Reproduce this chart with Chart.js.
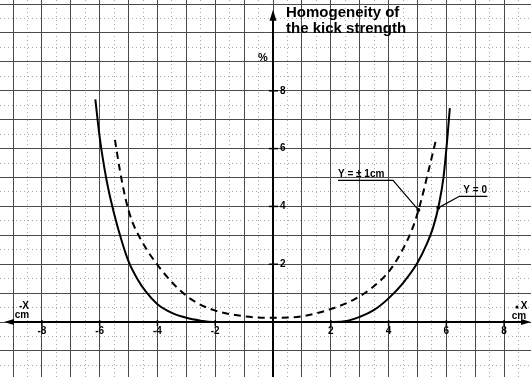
<!DOCTYPE html>
<html>
<head>
<meta charset="utf-8">
<script src="https://cdn.jsdelivr.net/npm/chart.js@4"></script>
<style>
  html, body { margin: 0; padding: 0; background: #fff; }
  canvas { display: block; }
</style>
</head>
<body>
<canvas id="chart" width="531" height="377"></canvas>
<script>
// curve Y = 0 (solid)
const xSolid = [-6.15, -6.0, -5.85, -5.7, -5.5, -5.25, -5.0, -4.7, -4.4, -4.0, -3.5, -3.0, -2.5, -2.1, 0, 2.1, 2.6, 3.0, 3.5, 4.0, 4.5, 5.0, 5.3, 5.55, 5.75, 5.9, 6.02, 6.12];
const ySolid = [7.7, 6.4, 5.4, 4.6, 3.75, 2.85, 2.1, 1.5, 1.05, 0.62, 0.32, 0.15, 0.05, 0, 0, 0, 0.05, 0.18, 0.42, 0.82, 1.35, 2.05, 2.65, 3.3, 4.1, 5.0, 6.2, 7.4];

// curve Y = +-1cm (dashed)
const xDashed = [-5.47, -5.3, -5.1, -4.9, -4.6, -4.3, -4.0, -3.68, -3.2, -2.76, -2.07, -1.0, 0, 1.0, 2.0, 2.8, 3.47, 4.05, 4.51, 4.85, 5.1, 5.35, 5.64];
const yDashed = [6.3, 5.25, 4.25, 3.55, 2.9, 2.4, 1.98, 1.58, 1.08, 0.74, 0.42, 0.2, 0.15, 0.2, 0.45, 0.78, 1.22, 1.8, 2.55, 3.3, 4.1, 5.1, 6.3];

const xTicks = [-8, -6, -4, -2, 2, 4, 6, 8];
const yTicks = [2, 4, 6, 8];
const titleLines = ['Homogeneity of', 'the kick strength'];

const xMajor = [], xMinor = [], yMajor = [], yMinor = [];
for (let v = -9; v <= 8; v++) xMajor.push(v);
for (let v = -9.5; v <= 8.5; v++) xMinor.push(v);
for (let v = -1; v <= 11; v++) yMajor.push(v);
for (let v = -1.5; v <= 10.5; v++) yMinor.push(v);

const toPts = (xs, ys) => xs.map((x, i) => ({ x: x, y: ys[i] }));
const setTicks = vals => axis => { axis.ticks = vals.map(v => ({ value: v })); };

function gridAxis(min, max, vals, pos, color, width, dash) {
  return {
    type: 'linear', position: pos, min: min, max: max,
    afterBuildTicks: setTicks(vals),
    ticks: { display: false },
    grid: { drawTicks: false, color: color, lineWidth: width },
    border: { display: false, dash: dash }
  };
}

const FONT = '"Liberation Sans", Arial, sans-serif';

const paperPlugin = {
  id: 'paper',
  afterDatasetsDraw(chart) {
    const ctx = chart.ctx;
    const sx = chart.scales.x, sy = chart.scales.y;
    const ox = sx.getPixelForValue(0), oy = sy.getPixelForValue(0);
    const left = chart.chartArea.left, right = chart.chartArea.right;
    ctx.save();
    ctx.strokeStyle = '#000';
    ctx.fillStyle = '#000';
    ctx.lineWidth = 2;
    // axes
    ctx.beginPath();
    ctx.moveTo(left + 8, oy); ctx.lineTo(right - 3, oy);
    ctx.moveTo(ox, sy.getPixelForValue(-1.9)); ctx.lineTo(ox, sy.getPixelForValue(10.6));
    ctx.stroke();
    // arrow heads
    const ty = sy.getPixelForValue(10.8);
    ctx.beginPath();
    ctx.moveTo(ox, ty); ctx.lineTo(ox - 3.5, ty + 11); ctx.lineTo(ox + 3.5, ty + 11); ctx.closePath();
    ctx.moveTo(left + 4, oy); ctx.lineTo(left + 14, oy - 3); ctx.lineTo(left + 14, oy + 3); ctx.closePath();
    ctx.moveTo(right, oy); ctx.lineTo(right - 10, oy - 3); ctx.lineTo(right - 10, oy + 3); ctx.closePath();
    ctx.fill();

    // tick marks and labels
    ctx.lineWidth = 1.5;
    ctx.font = 'bold 10px ' + FONT;
    ctx.textAlign = 'center';
    ctx.textBaseline = 'middle';
    xTicks.forEach(v => {
      const px = sx.getPixelForValue(v);
      ctx.beginPath(); ctx.moveTo(px, oy - 2); ctx.lineTo(px, oy + 4); ctx.stroke();
      ctx.fillText(String(v), px, oy + 9);
    });
    ctx.textAlign = 'left';
    yTicks.forEach(v => {
      const py = sy.getPixelForValue(v);
      ctx.beginPath(); ctx.moveTo(ox - 4, py); ctx.lineTo(ox + 5, py); ctx.stroke();
      ctx.fillText(String(v), ox + 7, py);
    });

    // axis names
    ctx.textAlign = 'center';
    ctx.fillText('-X', left + 24, oy - 16);
    ctx.fillText('cm', left + 22, oy - 7);
    ctx.fillText('X', right - 7, oy - 16);
    ctx.beginPath(); ctx.arc(right - 14, oy - 15, 1.6, 0, Math.PI * 2); ctx.fill();
    ctx.fillText('cm', right - 12, oy - 6);
    ctx.font = 'bold 11px ' + FONT;
    ctx.fillText('%', ox - 10, sy.getPixelForValue(9.15));

    // title
    ctx.font = 'bold 15px ' + FONT;
    ctx.textAlign = 'left';
    ctx.textBaseline = 'alphabetic';
    ctx.fillText(titleLines[0], ox + 13, sy.getPixelForValue(10.55));
    ctx.fillText(titleLines[1], ox + 13, sy.getPixelForValue(10.0));

    // curve labels with leader lines
    ctx.font = 'bold 10px ' + FONT;
    ctx.lineWidth = 1.2;
    const l1x = sx.getPixelForValue(2.25), l1y = sy.getPixelForValue(4.9);
    ctx.fillText('Y = \u00b1 1cm', l1x, l1y - 3);
    ctx.beginPath();
    ctx.moveTo(l1x, l1y); ctx.lineTo(l1x + 55, l1y);
    ctx.lineTo(sx.getPixelForValue(5.03), sy.getPixelForValue(3.88));
    ctx.stroke();
    const l2x = sx.getPixelForValue(6.45), l2y = sy.getPixelForValue(4.35);
    ctx.fillText('Y = 0', l2x + 4, l2y - 3);
    ctx.beginPath();
    ctx.moveTo(l2x + 28, l2y); ctx.lineTo(l2x, l2y);
    ctx.lineTo(sx.getPixelForValue(5.72), sy.getPixelForValue(3.95));
    ctx.stroke();
    [[5.03, 3.88], [5.72, 3.95]].forEach(p => {
      ctx.beginPath();
      ctx.arc(sx.getPixelForValue(p[0]), sy.getPixelForValue(p[1]), 2, 0, Math.PI * 2);
      ctx.fill();
    });
    ctx.restore();
  }
};

new Chart(document.getElementById('chart'), {
  type: 'scatter',
  data: {
    datasets: [
      {
        label: 'Y = 0',
        data: toPts(xSolid, ySolid),
        showLine: true,
        borderColor: '#000',
        borderWidth: 2,
        pointRadius: 0,
        cubicInterpolationMode: 'monotone'
      },
      {
        label: 'Y = \u00b1 1cm',
        data: toPts(xDashed, yDashed),
        showLine: true,
        borderColor: '#000',
        borderWidth: 2,
        borderDash: [7, 5],
        pointRadius: 0,
        cubicInterpolationMode: 'monotone'
      }
    ]
  },
  options: {
    responsive: false,
    animation: false,
    devicePixelRatio: 1,
    layout: { padding: 0, autoPadding: false },
    plugins: { legend: { display: false }, tooltip: { enabled: false } },
    scales: {
      x2: gridAxis(-9.45, 8.93, xMinor, 'bottom', '#a8a8a8', 1, [1, 3]),
      y2: gridAxis(-1.9, 11.14, yMinor, 'left', '#a8a8a8', 1, [1, 3]),
      x: gridAxis(-9.45, 8.93, xMajor, 'bottom', '#4a4a4a', 1, []),
      y: gridAxis(-1.9, 11.14, yMajor, 'left', '#4a4a4a', 1, [])
    }
  },
  plugins: [paperPlugin]
});
</script>
</body>
</html>
